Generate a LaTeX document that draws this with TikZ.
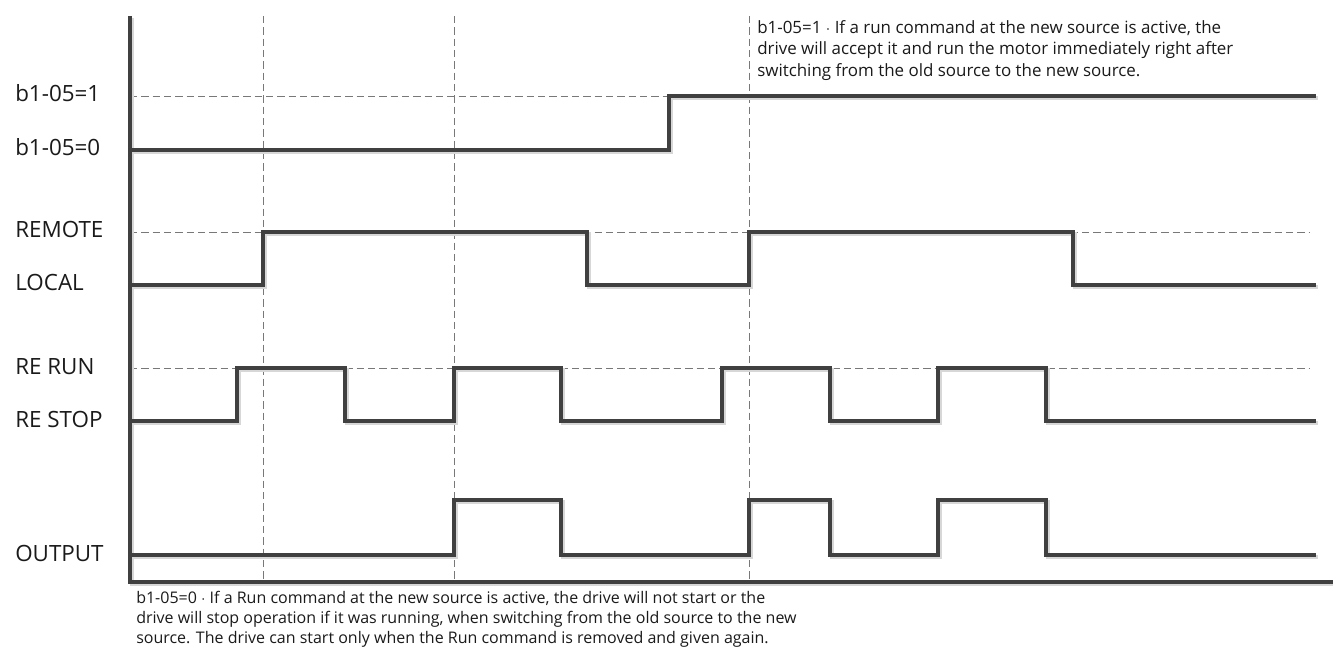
\documentclass[tikz,border=0pt]{standalone}
\usepackage{fontspec}
\setmainfont{Open Sans}
\usepackage{tikz}
\usetikzlibrary{positioning}
\definecolor{ink}{RGB}{26,26,26}
\definecolor{wavecol}{RGB}{64,64,64}
\definecolor{shade}{RGB}{215,215,215}
\definecolor{guide}{RGB}{120,120,120}
\tikzset{
  wave/.style={draw=wavecol, line width=2.5pt, line join=miter,
    preaction={draw=shade, line width=2.5pt, transform canvas={shift={(1.4pt,-1.4pt)}}}},
  guide/.style={draw=guide, line width=0.6pt, dash pattern=on 5.5pt off 3pt},
  lvl/.style={anchor=base west, font=\fontsize{16.8}{20}\selectfont, text=ink, inner sep=0pt},
  note/.style={anchor=north west, align=left, text=ink, inner sep=0pt},
}
\begin{document}
\begin{tikzpicture}[x=0.75pt, y=-0.75pt]
\useasboundingbox (0,0) rectangle (1333,655);
% guide lines
\foreach \tx in {263,454,749}
  \draw[guide] (\tx,16) -- (\tx,582);
\draw[guide] (130,96) -- (669,96);
\draw[guide] (130,232) -- (1310,232);
\draw[guide] (130,368) -- (1310,368);
% axes
\draw[wave] (130,16) -- (130,582) -- (1333,582);
% level labels
\node[lvl] (b1) at (15,102) {b1-05=1};
\node[lvl] (b0) at (15,156) {b1-05=0};
\node[lvl] (rem) at (15,238) {REMOTE};
\node[lvl] (loc) at (15,291) {LOCAL};
\node[lvl] (run) at (15,374) {RE RUN};
\node[lvl] (stop) at (15,427) {RE STOP};
\node[lvl] (out) at (15,561) {OUTPUT};
% waveforms
\draw[wave] (130,150) -- (669,150) -- (669,96) -- (1316,96);
\draw[wave] (130,285) -- (263,285) -- (263,232) -- (587,232) -- (587,285)
  -- (749,285) -- (749,232) -- (1073,232) -- (1073,285) -- (1316,285);
\draw[wave] (130,421) -- (237,421) -- (237,368) -- (345,368) -- (345,421)
  -- (454,421) -- (454,368) -- (561,368) -- (561,421) -- (722,421) -- (722,368)
  -- (830,368) -- (830,421) -- (938,421) -- (938,368) -- (1046,368) -- (1046,421)
  -- (1316,421);
\draw[wave] (130,555) -- (454,555) -- (454,500) -- (561,500) -- (561,555)
  -- (749,555) -- (749,500) -- (830,500) -- (830,555) -- (938,555) -- (938,500)
  -- (1046,500) -- (1046,555) -- (1316,555);
% notes
\node[note, font=\fontsize{12.7}{16.2}\selectfont] (top) at (757,20)
  {b1-05=1 $\cdot$ If a run command at the new source is active, the\\
  drive will accept it and run the motor immediately right after\\
  switching from the old source to the new source.};
\node[note, font=\fontsize{12}{15}\selectfont] (bot) at (136,591)
  {b1-05=0 $\cdot$ If a Run command at the new source is active, the drive will not start or the\\
  drive will stop operation if it was running, when switching from the old source to the new\\
  source. The drive can start only when the Run command is removed and given again.};
\end{tikzpicture}
\end{document}
